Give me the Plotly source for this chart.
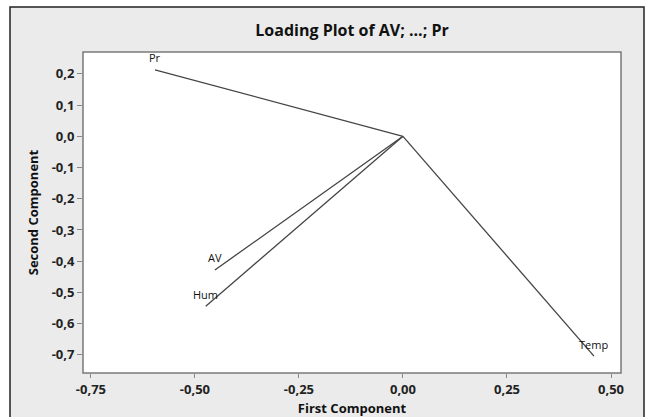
import plotly.graph_objects as go

# Loadings
variables = ["AV", "Hum", "Temp", "Pr"]
first_component = [-0.452, -0.474, 0.459, -0.596]
second_component = [-0.428, -0.544, -0.704, 0.213]

x_tickvals = [-0.75, -0.50, -0.25, 0.00, 0.25, 0.50]
x_ticktext = ["-0,75", "-0,50", "-0,25", "0,00", "0,25", "0,50"]
y_tickvals = [0.2, 0.1, 0.0, -0.1, -0.2, -0.3, -0.4, -0.5, -0.6, -0.7]
y_ticktext = ["0,2", "0,1", "0,0", "-0,1", "-0,2", "-0,3", "-0,4", "-0,5", "-0,6", "-0,7"]

W, H = 648, 417
L, R, T, B = 83, 27, 52, 44
pw, ph = W - L - R, H - T - B

def px_x(p):
    return (p - L) / pw

def px_y(p):
    return (H - B - p) / ph

fig = go.Figure()

for name, x, y in zip(variables, first_component, second_component):
    fig.add_trace(go.Scatter(
        x=[0, x], y=[0, y], mode="lines",
        line=dict(color="#444444", width=1.3),
        hoverinfo="skip", showlegend=False,
    ))

for name, x, y in zip(variables, first_component, second_component):
    fig.add_annotation(
        x=x, y=y, text=name, showarrow=False,
        xanchor="center", yanchor="middle", yshift=12,
        font=dict(family="Open Sans", size=11, color="#111111"),
    )

tickfont = dict(family="Open Sans", size=13, color="#222222", weight="bold")
titlefont = dict(family="Open Sans", size=13, color="#111111", weight="bold")

fig.update_layout(
    width=W, height=H,
    margin=dict(l=L, r=R, t=T, b=B, autoexpand=False),
    paper_bgcolor="white",
    plot_bgcolor="white",
    separators=",.",
    title=dict(
        text="Loading Plot of AV; ...; Pr",
        font=dict(family="Open Sans", size=16, color="#111111", weight="bold"),
        x=px_x(352), xref="paper", xanchor="center",
        y=1 - 30 / H, yref="container", yanchor="middle",
    ),
    xaxis=dict(
        range=[-0.769, 0.524], tickvals=x_tickvals, ticktext=x_ticktext,
        showgrid=False, zeroline=False, showline=False, automargin=False,
        ticks="outside", ticklen=4, tickcolor="#888888", tickwidth=1,
        tickfont=tickfont,
        title=dict(text="First Component", font=titlefont, standoff=8),
    ),
    yaxis=dict(
        range=[-0.758, 0.27], tickvals=y_tickvals, ticktext=y_ticktext,
        showgrid=False, zeroline=False, showline=False, automargin=False,
        ticks="outside", ticklen=5, tickcolor="#888888", tickwidth=1,
        tickfont=tickfont,
        title=dict(text="Second Component", font=titlefont, standoff=10),
    ),
    shapes=[
        dict(type="rect", xref="paper", yref="paper", layer="below",
             x0=px_x(10), x1=px_x(644), y0=px_y(430), y1=px_y(7),
             fillcolor="#ebebeb", line=dict(color="#222222", width=1.5)),
        dict(type="rect", xref="paper", yref="paper", layer="below",
             x0=0, x1=1, y0=0, y1=1,
             fillcolor="white", line=dict(color="#7a7a7a", width=1.5)),
    ],
)

fig.write_html("out.html")
